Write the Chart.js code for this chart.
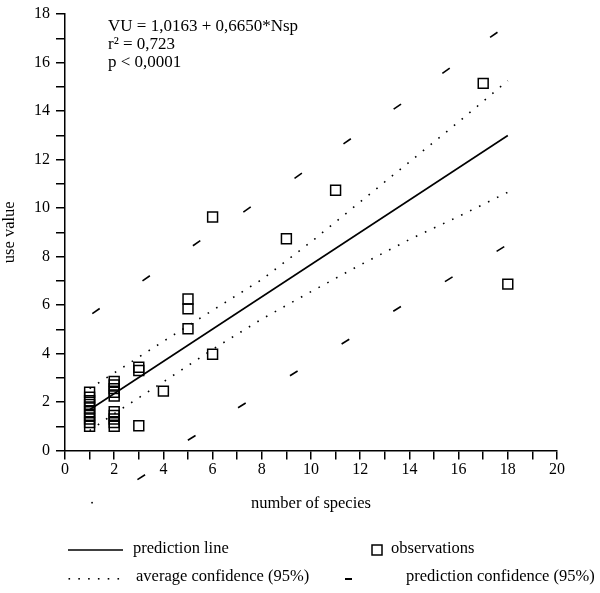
<!DOCTYPE html>
<html>
<head>
<meta charset="utf-8">
<script src="https://cdn.jsdelivr.net/npm/chart.js@4/dist/chart.umd.min.js"></script>
<style>
  html, body { margin: 0; padding: 0; background: #fff; }
  #wrap { width: 600px; height: 593px; position: relative; }
</style>
</head>
<body>
<div id="wrap"><canvas id="c" width="600" height="593"></canvas></div>
<script>
// ---- data ----
const obsX = [1,1,1,1,1,1,1,1,1,1, 2,2,2,2,2,2,2,2,2,2, 3,3,3, 4, 5,5,5, 6,6, 9, 11, 17, 18];
const obsY = [1.0,1.15,1.3,1.45,1.6,1.75,1.9,2.05,2.2,2.4,
              1.0,1.15,1.3,1.45,1.6,2.25,2.4,2.55,2.7,2.85,
              1.02,3.3,3.43, 2.45, 5.02,5.84,6.25, 3.97,9.63, 8.73, 10.73, 15.14, 6.86];

const predLineX = [1, 18];
const predLineY = [1.68, 12.99];

const avgX      = [1, 2, 4, 6, 8, 10, 12, 14, 16, 18];
const avgUpper  = [2.55, 3.2, 4.5, 5.78, 7.05, 8.6, 10.25, 11.9, 13.55, 15.25];
const avgLower  = [0.82, 1.52, 2.83, 4.17, 5.42, 6.55, 7.65, 8.7, 9.65, 10.65];

const predUpX = [1.26, 3.3, 5.35, 7.4, 9.48, 11.47, 13.51, 15.49, 17.43];
const predUpY = [5.75, 7.1, 8.55, 9.94, 11.33, 12.75, 14.18, 15.66, 17.14];
const predLoX = [1.1, 3.1, 5.15, 7.19, 9.3, 11.4, 13.5, 15.6, 17.7];
const predLoY = [-2.15, -1.1, 0.52, 1.86, 3.18, 4.49, 5.84, 7.06, 8.31];

const xTicksLabels = [0,2,4,6,8,10,12,14,16,18,20];
const yTicksLabels = [0,2,4,6,8,10,12,14,16,18];

const annotationLines = ['VU = 1,0163 + 0,6650*Nsp', 'r\u00B2 = 0,723', 'p < 0,0001'];
const legendLabels = ['prediction line', 'observations', 'average confidence (95%)', 'prediction confidence (95%)'];

// ---- helpers ----
const zip = (xs, ys) => xs.map((x, i) => ({x, y: ys[i]}));
const FONT = '"Liberation Serif", "Times New Roman", serif';
const UP_ROT = -35, LO_ROT = -32, DASH_R = 4.5;

function drawDash(ctx, px, py, rotDeg, r) {
  const a = rotDeg * Math.PI / 180;
  const dx = Math.cos(a) * r, dy = Math.sin(a) * r;
  ctx.beginPath(); ctx.moveTo(px - dx, py - dy); ctx.lineTo(px + dx, py + dy); ctx.stroke();
}

// marks of the lower prediction band that lie below the x axis (outside chart area)
const outsidePlugin = {
  id: 'outsidePlugin',
  afterDatasetsDraw(chart) {
    const ctx = chart.ctx, xs = chart.scales.x, ys = chart.scales.y;
    ctx.save();
    ctx.strokeStyle = '#000'; ctx.fillStyle = '#000'; ctx.lineWidth = 1.6;
    predLoX.forEach((x, i) => {
      const y = predLoY[i];
      if (y >= 0) return;
      const px = xs.getPixelForValue(x), py = ys.getPixelForValue(y);
      if (i === 0) { ctx.beginPath(); ctx.arc(px, py, 0.9, 0, Math.PI * 2); ctx.fill(); }
      else drawDash(ctx, px, py, LO_ROT, DASH_R);
    });
    ctx.restore();
  }
};

const textPlugin = {
  id: 'textPlugin',
  afterDraw(chart) {
    const ctx = chart.ctx;
    ctx.save();
    ctx.fillStyle = '#000';
    ctx.strokeStyle = '#000';
    // annotation
    ctx.font = '17px ' + FONT;
    ctx.textAlign = 'left';
    ctx.textBaseline = 'alphabetic';
    const annY = [31, 49, 67];
    annotationLines.forEach((t, i) => ctx.fillText(t, 108, annY[i]));

    // legend
    ctx.font = '16.5px ' + FONT;
    ctx.textBaseline = 'middle';
    const r1 = 549, r2 = 577;
    ctx.lineWidth = 1.5;
    ctx.beginPath(); ctx.moveTo(68, r1 + 1); ctx.lineTo(123, r1 + 1); ctx.stroke();
    ctx.fillText(legendLabels[0], 133, r1);
    ctx.strokeRect(372, r1 - 4, 10, 10);
    ctx.fillText(legendLabels[1], 391, r1);
    for (let i = 0; i < 6; i++) {
      ctx.fillRect(68.5 + i * 9.8, r2 + 1, 1.6, 1.6);
    }
    ctx.fillText(legendLabels[2], 136, r2);
    ctx.lineWidth = 2;
    ctx.beginPath(); ctx.moveTo(345, r2 + 2); ctx.lineTo(352, r2 + 2); ctx.stroke();
    ctx.fillText(legendLabels[3], 406, r2);
    ctx.restore();
  }
};

const tickFont = {family: FONT, size: 16, lineHeight: 1};
const titleFont = {family: FONT, size: 16.5, lineHeight: 1.2};

new Chart(document.getElementById('c'), {
  type: 'scatter',
  data: {
    datasets: [
      {
        label: 'observations',
        data: zip(obsX, obsY),
        pointStyle: 'rect',
        pointRadius: 7,
        pointHoverRadius: 7,
        borderColor: '#000',
        backgroundColor: 'rgba(0,0,0,0)',
        borderWidth: 1.5
      },
      {
        label: 'prediction line',
        data: zip(predLineX, predLineY),
        showLine: true,
        pointRadius: 0,
        borderColor: '#000',
        borderWidth: 1.6
      },
      {
        label: 'average confidence upper',
        data: zip(avgX, avgUpper),
        showLine: true,
        pointRadius: 0,
        borderColor: '#000',
        borderWidth: 1.6,
        borderDash: [1.6, 8.4]
      },
      {
        label: 'average confidence lower',
        data: zip(avgX, avgLower),
        showLine: true,
        pointRadius: 0,
        borderColor: '#000',
        borderWidth: 1.6,
        borderDash: [1.6, 8.4]
      },
      {
        label: 'prediction confidence upper',
        data: zip(predUpX, predUpY),
        pointStyle: 'line',
        rotation: UP_ROT,
        pointRadius: DASH_R,
        borderColor: '#000',
        borderWidth: 1.6
      },
      {
        label: 'prediction confidence lower',
        data: zip(predLoX, predLoY),
        pointStyle: 'line',
        rotation: LO_ROT,
        pointRadius: DASH_R,
        borderColor: '#000',
        borderWidth: 1.6
      }
    ]
  },
  options: {
    responsive: false,
    animation: false,
    events: [],
    layout: {padding: {top: 8, right: 43, bottom: 79, left: 0}},
    plugins: {legend: {display: false}, tooltip: {enabled: false}},
    scales: {
      x: {
        type: 'linear', min: 0, max: 20,
        ticks: {
          stepSize: 1, autoSkip: false, maxRotation: 0, color: '#000', font: tickFont, padding: 2,
          callback: v => xTicksLabels.includes(v) ? String(v) : ''
        },
        grid: {drawOnChartArea: false, drawTicks: true, tickLength: 9, color: '#000', lineWidth: 1.5},
        border: {color: '#000', width: 1.5},
        title: {display: true, text: 'number of species', color: '#000', font: titleFont, padding: 0},
        afterFit: s => { s.height = 63.5; }
      },
      y: {
        type: 'linear', min: 0, max: 18,
        ticks: {
          stepSize: 1, autoSkip: false, color: '#000', font: tickFont, padding: 6,
          callback: v => yTicksLabels.includes(v) ? String(v) : ''
        },
        grid: {drawOnChartArea: false, drawTicks: true, tickLength: 9, color: '#000', lineWidth: 1.5},
        border: {color: '#000', width: 1.5},
        title: {display: true, text: 'use value', color: '#000', font: titleFont, padding: 0},
        afterFit: s => { s.width = 65; }
      }
    }
  },
  plugins: [outsidePlugin, textPlugin]
});
</script>
</body>
</html>
